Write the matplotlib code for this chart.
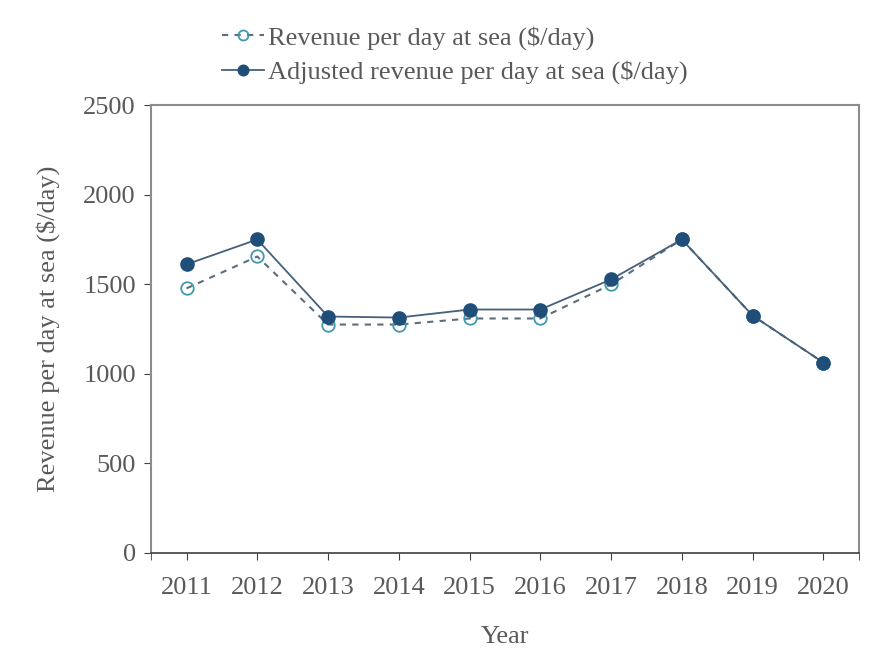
import matplotlib.pyplot as plt
import numpy as np

plt.rcParams['font.family'] = ['Liberation Serif', 'DejaVu Serif']

years = [2011, 2012, 2013, 2014, 2015, 2016, 2017, 2018, 2019, 2020]
revenue = [1477, 1655, 1275, 1275, 1309, 1309, 1499, 1750, 1325, 1063]
adjusted = [1611, 1750, 1320, 1314, 1359, 1359, 1527, 1750, 1325, 1063]

text_color = '#595959'
axis_color = '#8c8c8c'
fs = 19

fig = plt.figure(figsize=(8.89, 6.49), dpi=100)
ax = fig.add_axes([0.170, 0.148, 0.796, 0.690])

ax.plot(years, revenue, linestyle=(0, (3, 3)), color='#5a6e80', linewidth=1.5,
        marker='o', markersize=9, markerfacecolor='none',
        markeredgecolor='#3f9aae', markeredgewidth=1.3,
        label='Revenue per day at sea ($/day)', zorder=2)
ax.plot(years, adjusted, linestyle='-', color='#45607a', linewidth=1.3,
        marker='o', markersize=9.5, markerfacecolor='#1f4e79',
        markeredgecolor='#1f4e79',
        label='Adjusted revenue per day at sea ($/day)', zorder=3)

ax.set_xlim(2010.5, 2020.5)
ax.set_ylim(0, 2500)
ax.set_xticks(years)
ax.set_xticks([2010.5, 2020.5], minor=True)
ax.set_yticks(np.arange(0, 2501, 500))

for s in ax.spines.values():
    s.set_color(axis_color)
    s.set_linewidth(1.5)
ax.spines['bottom'].set_color('#404040')
ax.spines['bottom'].set_linewidth(1.2)

ax.tick_params(axis='both', which='both', direction='out', length=5,
               color='#404040', labelcolor=text_color, labelsize=fs)
ax.tick_params(axis='x', which='both', pad=12)
ax.tick_params(axis='y', pad=6)

ax.set_xlabel('Year', fontsize=fs, color=text_color, labelpad=20)
ax.set_ylabel('Revenue per day at sea ($/day)', fontsize=fs, color=text_color, labelpad=17)

fig.legend(loc='upper left', bbox_to_anchor=(0.25, 0.960), frameon=False,
           fontsize=fs, labelcolor=text_color, handlelength=1.6,
           handletextpad=0.12, labelspacing=0.4, borderpad=0, borderaxespad=0,
           markerscale=0.8)

fig.savefig('out.png', dpi=100)
